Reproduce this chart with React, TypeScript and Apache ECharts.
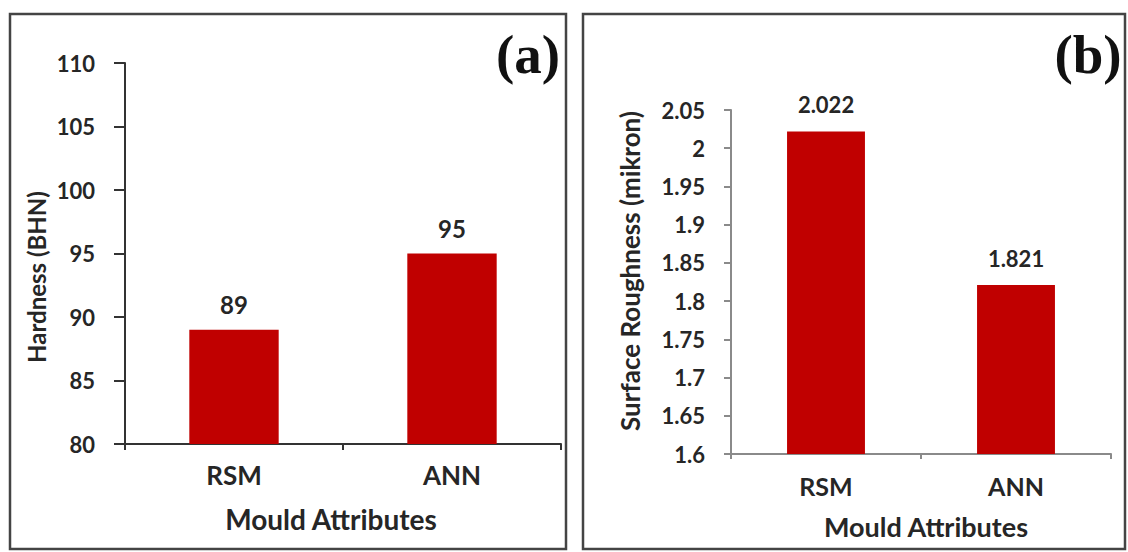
import React, { useEffect, useRef } from "react";
import * as echarts from "echarts";

// ---- data ----
const categories = ["RSM", "ANN"];
const hardnessValues = [89, 95];
const roughnessValues = [2.022, 1.821];
const hardnessAxis = { min: 80, max: 110, interval: 5 };
const roughnessAxis = { min: 1.6, max: 2.05, interval: 0.05 };
const hardnessName = "Hardness (BHN)";
const roughnessName = "Surface Roughness (mikron)";
const xName = "Mould Attributes";
const panelTags = ["(a)", "(b)"];

const FONT = "Lato, 'Open Sans', sans-serif";
const TXT = "#262626";
const RED = "#C00000";

export default function App() {
  const ref = useRef<HTMLDivElement>(null);
  useEffect(() => {
    document.body.style.margin = "0";
    const chart = echarts.init(ref.current!, null, { renderer: "svg" });
    const valueLabel = (fs: number, dist: number, fmt?: (v: number) => string) => ({
      show: true,
      position: "top",
      distance: dist,
      fontFamily: FONT,
      fontWeight: "bold",
      fontSize: fs,
      color: TXT,
      formatter: (p: any) => (fmt ? fmt(p.value) : String(p.value)),
    });
    const rotText = (text: string, x: number, y: number, fs: number) => ({
      type: "text",
      x,
      y,
      rotation: Math.PI / 2,
      silent: true,
      style: {
        text,
        fontFamily: FONT,
        fontWeight: "bold",
        fontSize: fs,
        fill: TXT,
        textAlign: "center",
        textVerticalAlign: "middle",
      },
    });
    const plainText = (text: string, x: number, y: number, fs: number) => ({
      type: "text",
      x,
      y,
      silent: true,
      style: {
        text,
        fontFamily: FONT,
        fontWeight: "bold",
        fontSize: fs,
        fill: TXT,
        textAlign: "center",
        textVerticalAlign: "middle",
      },
    });
    const tag = (text: string, x: number) => ({
      type: "text",
      x,
      y: 54,
      silent: true,
      style: {
        text,
        fontFamily: "'Liberation Serif', 'Times New Roman', serif",
        fontWeight: "bold",
        fontSize: 55,
        fill: "#111",
        textAlign: "center",
        textVerticalAlign: "middle",
      },
    });
    chart.setOption({
      animation: false,
      backgroundColor: "#ffffff",
      grid: [
        { left: 125, top: 63, width: 436, height: 381 },
        { left: 731, top: 110, width: 380, height: 344 },
      ],
      xAxis: [
        {
          gridIndex: 0,
          type: "category",
          data: categories,
          axisLine: { lineStyle: { color: "#333", width: 2 } },
          axisTick: { show: true, length: 6, lineStyle: { color: "#333", width: 2 } },
          axisLabel: { fontFamily: FONT, fontWeight: "bold", fontSize: 26, color: TXT, margin: 18 },
        },
        {
          gridIndex: 1,
          type: "category",
          data: categories,
          axisLine: { lineStyle: { color: "#8a8a8a", width: 2 } },
          axisTick: { show: true, length: 5, lineStyle: { color: "#8a8a8a", width: 2 } },
          axisLabel: { fontFamily: FONT, fontWeight: "bold", fontSize: 25, color: TXT, margin: 19 },
        },
      ],
      yAxis: [
        {
          gridIndex: 0,
          type: "value",
          min: hardnessAxis.min,
          max: hardnessAxis.max,
          interval: hardnessAxis.interval,
          splitLine: { show: false },
          axisLine: { show: true, lineStyle: { color: "#333", width: 2 } },
          axisTick: { show: true, length: 11, lineStyle: { color: "#333", width: 2 } },
          axisLabel: { fontFamily: FONT, fontWeight: "bold", fontSize: 22, color: TXT, margin: 30 },
        },
        {
          gridIndex: 1,
          type: "value",
          min: roughnessAxis.min,
          max: roughnessAxis.max,
          interval: roughnessAxis.interval,
          splitLine: { show: false },
          axisLine: { show: true, lineStyle: { color: "#8a8a8a", width: 2 } },
          axisTick: { show: true, length: 7, lineStyle: { color: "#8a8a8a", width: 2 } },
          axisLabel: {
            fontFamily: FONT,
            fontWeight: "bold",
            fontSize: 22,
            color: TXT,
            margin: 26,
            formatter: (v: number) => String(+v.toFixed(2)),
          },
        },
      ],
      series: [
        {
          type: "bar",
          xAxisIndex: 0,
          yAxisIndex: 0,
          data: hardnessValues,
          barWidth: "41%",
          itemStyle: { color: RED },
          label: valueLabel(24, 13),
        },
        {
          type: "bar",
          xAxisIndex: 1,
          yAxisIndex: 1,
          data: roughnessValues,
          barWidth: "41%",
          itemStyle: { color: RED },
          label: valueLabel(22, 16, (v) => v.toFixed(3)),
        },
      ],
      graphic: [
        {
          type: "rect",
          silent: true,
          shape: { x: 10, y: 14, width: 556, height: 535 },
          style: { fill: "none", stroke: "#444", lineWidth: 2.5 },
        },
        {
          type: "rect",
          silent: true,
          shape: { x: 583, y: 14, width: 542, height: 535 },
          style: { fill: "none", stroke: "#444", lineWidth: 2.5 },
        },
        rotText(hardnessName, 36, 277, 24),
        rotText(roughnessName, 630, 271, 26),
        plainText(xName, 331, 519, 28),
        plainText(xName, 926, 526, 27),
        tag(panelTags[0], 528),
        tag(panelTags[1], 1088),
      ],
    });
    return () => chart.dispose();
  }, []);
  return (
    <div
      ref={ref}
      style={{ position: "absolute", left: 0, top: 0, width: 1128, height: 552 }}
    />
  );
}
